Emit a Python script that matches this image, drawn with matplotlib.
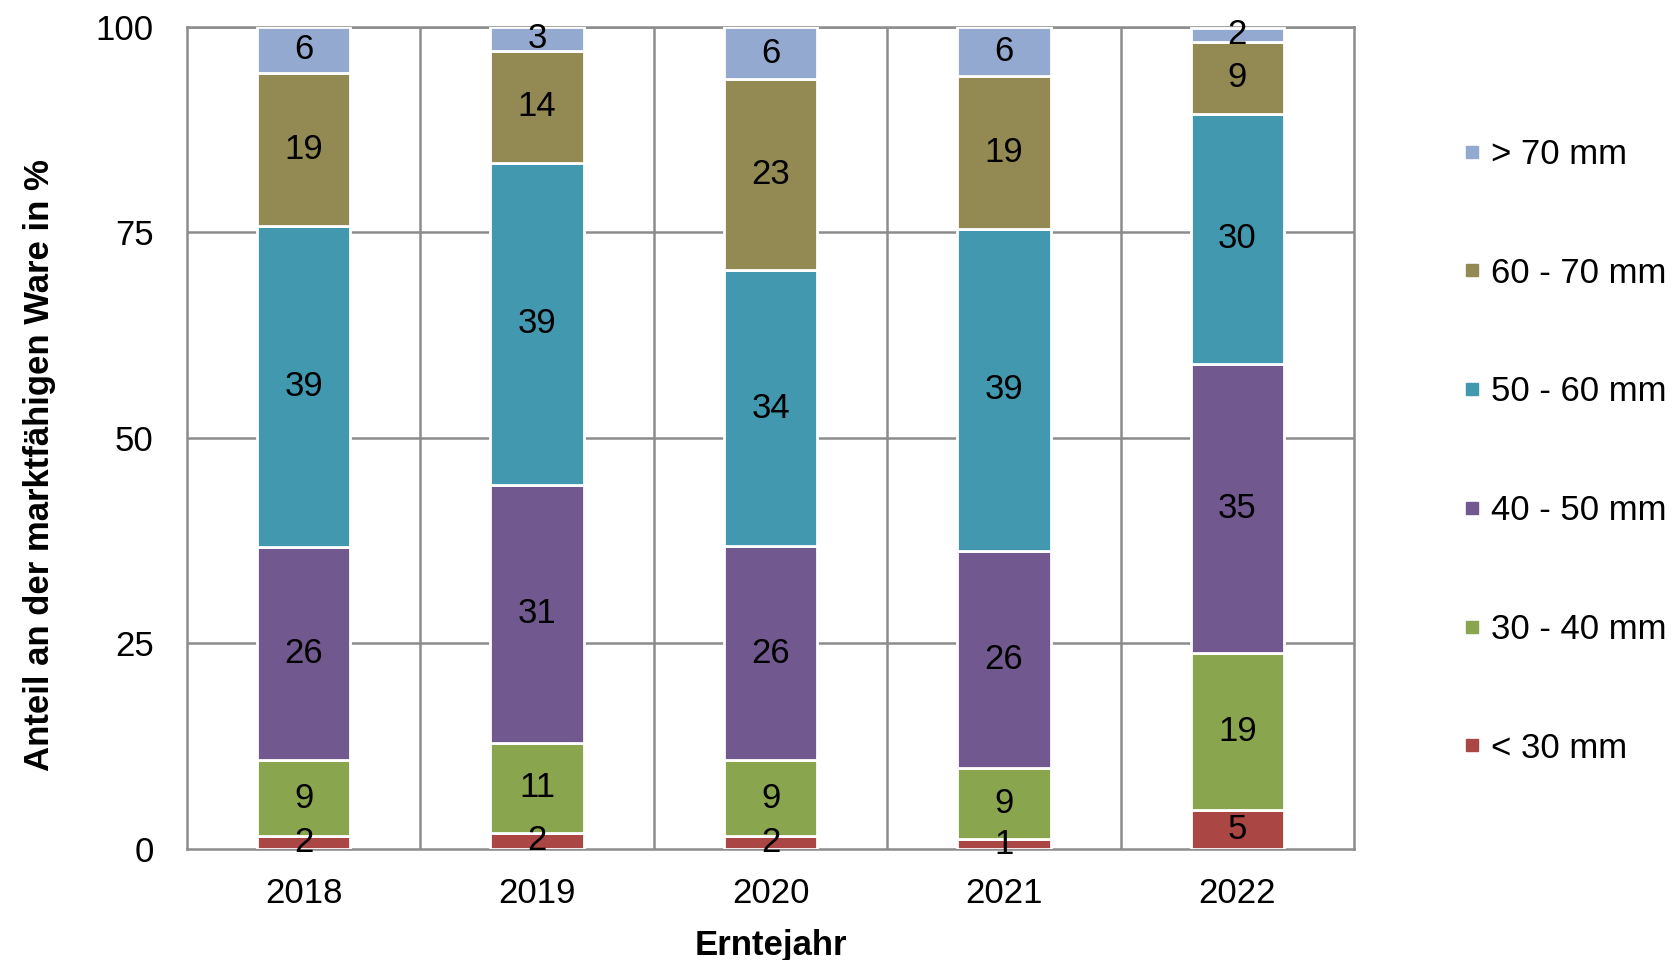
import matplotlib.pyplot as plt
from matplotlib.lines import Line2D
import numpy as np

plt.rcParams['font.family'] = ['Liberation Sans', 'DejaVu Sans']

years = ["2018", "2019", "2020", "2021", "2022"]
classes = ["< 30 mm", "30 - 40 mm", "40 - 50 mm", "50 - 60 mm", "60 - 70 mm", "> 70 mm"]
colors = ["#AA4643", "#89A54E", "#71588F", "#4198AF", "#938953", "#93A9CF"]

# shares per size class, bottom to top
lt30 = [1.6, 2.0, 1.6, 1.2, 4.7]
c30_40 = [9.2, 10.9, 9.2, 8.7, 19.1]
c40_50 = [25.9, 31.4, 26.0, 26.4, 35.2]
c50_60 = [39.1, 39.2, 33.6, 39.1, 30.4]
c60_70 = [18.6, 13.6, 23.2, 18.6, 8.8]
gt70 = [5.6, 2.9, 6.4, 6.0, 1.7]

series = [lt30, c30_40, c40_50, c50_60, c60_70, gt70]
FS = 25

fig = plt.figure(figsize=(16.78, 9.6), dpi=100)
ax = fig.add_axes([0.1114, 0.1156, 0.6956, 0.8564])

x = np.arange(len(years))
bottom = np.zeros(len(years))
for vals, col in zip(series, colors):
    vals = np.array(vals)
    ax.bar(x, vals, width=0.4, bottom=bottom, color=col,
           edgecolor="white", linewidth=2, zorder=3)
    for xi, b, v in zip(x, bottom, vals):
        ax.text(xi, b + v / 2, f"{v:.0f}", ha="center", va="center",
                fontsize=FS, color="black", zorder=4)
    bottom += vals

grid_col = "#8c8c8c"
ax.set_xlim(-0.5, len(years) - 0.5)
ax.set_ylim(0, 100)
ax.set_yticks([0, 25, 50, 75, 100])
ax.set_xticks(x)
ax.set_xticklabels(years)
for yv in [25, 50, 75, 100]:
    ax.axhline(yv, color=grid_col, lw=1.8, zorder=1)
for xv in np.arange(0.5, len(years) - 0.5, 1):
    ax.axvline(xv, color=grid_col, lw=1.8, zorder=1)
for s in ax.spines.values():
    s.set_color(grid_col)
    s.set_linewidth(1.8)
ax.tick_params(length=0, labelsize=FS)
ax.tick_params(axis="y", pad=24)
ax.tick_params(axis="x", pad=20)

ax.set_ylabel("Anteil an der marktfähigen Ware in %", fontsize=FS,
              fontweight="bold")
ax.yaxis.set_label_coords(-0.112, 0.467)
ax.set_xlabel("Erntejahr", fontsize=FS, fontweight="bold", labelpad=14)

handles = [Line2D([], [], marker="s", linestyle="none", markersize=9,
                  markerfacecolor=c, markeredgecolor=c) for c in colors]
leg = fig.legend(handles[::-1], classes[::-1], loc="center left",
                 bbox_to_anchor=(0.871, 0.530), frameon=False, fontsize=FS,
                 labelspacing=2.47, handletextpad=0.25, handlelength=0.6,
                 borderpad=0, borderaxespad=0)

fig.savefig("out.png", dpi=100, facecolor="white")
